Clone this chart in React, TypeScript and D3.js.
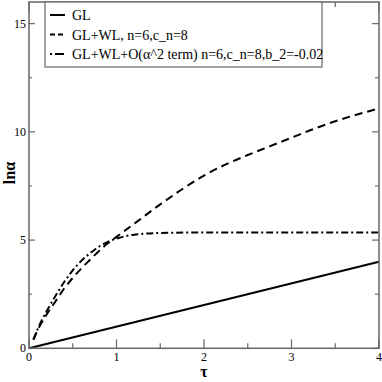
import React, { useRef, useEffect } from "react";
import * as d3 from "d3";

// series
const tauGL = [0, 4];
const lnaGL = [0, 4];

const tauWL = [0.05, 0.1, 0.2, 0.3, 0.4, 0.5, 0.6, 0.7, 0.8, 0.9, 1.0, 1.25, 1.5, 1.75, 2.0, 2.25, 2.5, 2.75, 3.0, 3.25, 3.5, 3.75, 4.0];
const lnaWL = [0.4, 0.85, 1.55, 2.15, 2.75, 3.25, 3.7, 4.1, 4.5, 4.85, 5.15, 5.9, 6.65, 7.35, 7.98, 8.5, 8.93, 9.33, 9.73, 10.13, 10.49, 10.8, 11.08];

const tauO2 = [0.05, 0.1, 0.2, 0.3, 0.4, 0.5, 0.6, 0.7, 0.8, 0.9, 1.0, 1.1, 1.2, 1.3, 1.5, 2.0, 2.5, 3.0, 3.5, 4.0];
const lnaO2 = [0.4, 0.9, 1.7, 2.4, 3.05, 3.6, 4.05, 4.4, 4.7, 4.92, 5.07, 5.18, 5.25, 5.29, 5.33, 5.35, 5.35, 5.35, 5.35, 5.35];

const xTicks = [0, 1, 2, 3, 4];
const yTicks = [0, 5, 10, 15];

const legendLabels = [
  "GL",
  "GL+WL, n=6,c_n=8",
  "GL+WL+O(\u03b1^2 term) n=6,c_n=8,b_2=-0.02",
];
const dashes = ["none", "8,5", "7,3,2,3"];

const App = () => {
  const ref = useRef<SVGSVGElement>(null);

  useEffect(() => {
    const width = 382;
    const height = 382;
    const left = 29;
    const right = 379;
    const top = 2;
    const bottom = 348.3;
    const frame = "#666";
    const font = "'Liberation Serif', serif";

    const svg = d3.select(ref.current);
    svg.selectAll("*").remove();
    svg.attr("width", width).attr("height", height);

    const x = d3.scaleLinear().domain([0, 4]).range([left, right]);
    const y = d3.scaleLinear().domain([0, 16]).range([bottom, top]);

    const line = d3
      .line<[number, number]>()
      .x((d) => x(d[0]))
      .y((d) => y(d[1]))
      .curve(d3.curveMonotoneX);

    const series = [
      tauGL.map((t, i) => [t, lnaGL[i]] as [number, number]),
      tauWL.map((t, i) => [t, lnaWL[i]] as [number, number]),
      tauO2.map((t, i) => [t, lnaO2[i]] as [number, number]),
    ];

    const g = svg.append("g");

    series.forEach((s, i) => {
      g.append("path")
        .attr("d", line(s))
        .attr("fill", "none")
        .attr("stroke", "#000")
        .attr("stroke-width", 2)
        .attr("stroke-dasharray", dashes[i]);
    });

    // ticks, pointing inward on all four sides
    const xMinor = d3.range(0.5, 4, 1);
    const yMinor = d3.range(2.5, 16, 5);
    const ticks = g.append("g").attr("stroke", frame).attr("stroke-width", 1.2);
    xTicks.forEach((t) => {
      ticks.append("line").attr("x1", x(t)).attr("x2", x(t)).attr("y1", bottom).attr("y2", bottom - 9);
      ticks.append("line").attr("x1", x(t)).attr("x2", x(t)).attr("y1", top).attr("y2", top + 9);
    });
    xMinor.forEach((t) => {
      ticks.append("line").attr("x1", x(t)).attr("x2", x(t)).attr("y1", bottom).attr("y2", bottom - 5);
      ticks.append("line").attr("x1", x(t)).attr("x2", x(t)).attr("y1", top).attr("y2", top + 5);
    });
    yTicks.forEach((v) => {
      ticks.append("line").attr("x1", left).attr("x2", left + 6).attr("y1", y(v)).attr("y2", y(v));
      ticks.append("line").attr("x1", right).attr("x2", right - 7).attr("y1", y(v)).attr("y2", y(v));
    });
    yMinor.forEach((v) => {
      ticks.append("line").attr("x1", left).attr("x2", left + 3).attr("y1", y(v)).attr("y2", y(v));
      ticks.append("line").attr("x1", right).attr("x2", right - 4).attr("y1", y(v)).attr("y2", y(v));
    });

    // frame
    g.append("rect")
      .attr("x", left)
      .attr("y", top)
      .attr("width", right - left)
      .attr("height", bottom - top)
      .attr("fill", "none")
      .attr("stroke", frame)
      .attr("stroke-width", 1.5);

    // tick labels
    g.selectAll(".xl")
      .data(xTicks)
      .enter()
      .append("text")
      .attr("x", (d) => x(d))
      .attr("y", bottom + 13)
      .attr("text-anchor", "middle")
      .style("font-family", font)
      .style("font-size", "12px")
      .text((d) => d);

    g.selectAll(".yl")
      .data(yTicks)
      .enter()
      .append("text")
      .attr("x", left - 3)
      .attr("y", (d) => y(d) + 4)
      .attr("text-anchor", "end")
      .style("font-family", font)
      .style("font-size", "12px")
      .text((d) => d);

    // axis titles
    g.append("text")
      .attr("transform", `translate(15,173) rotate(-90)`)
      .attr("text-anchor", "middle")
      .style("font-family", font)
      .style("font-size", "16px")
      .style("font-weight", "bold")
      .text("ln\u03b1");

    g.append("text")
      .attr("x", x(2))
      .attr("y", 377)
      .attr("text-anchor", "middle")
      .style("font-family", font)
      .style("font-size", "16px")
      .style("font-weight", "bold")
      .text("\u03c4");

    // legend
    const lg = g.append("g");
    lg.append("rect")
      .attr("x", 45)
      .attr("y", top)
      .attr("width", 277)
      .attr("height", 65)
      .attr("fill", "#fff")
      .attr("stroke", frame)
      .attr("stroke-width", 1.2);
    legendLabels.forEach((label, i) => {
      const ly = 15 + i * 19.5;
      lg.append("line")
        .attr("x1", 50)
        .attr("x2", 65)
        .attr("y1", ly)
        .attr("y2", ly)
        .attr("stroke", "#000")
        .attr("stroke-width", 2)
        .attr("stroke-dasharray", i === 1 ? "5,3" : i === 2 ? "2,3,7,0" : "none");
      lg.append("text")
        .attr("x", 72)
        .attr("y", ly + 5)
        .style("font-family", font)
        .style("font-size", "14px")
        .text(label);
    });
  }, []);

  return (
    <div style={{ position: "absolute", left: 0, top: 0 }}>
      <svg ref={ref}></svg>
    </div>
  );
};

export default App;
